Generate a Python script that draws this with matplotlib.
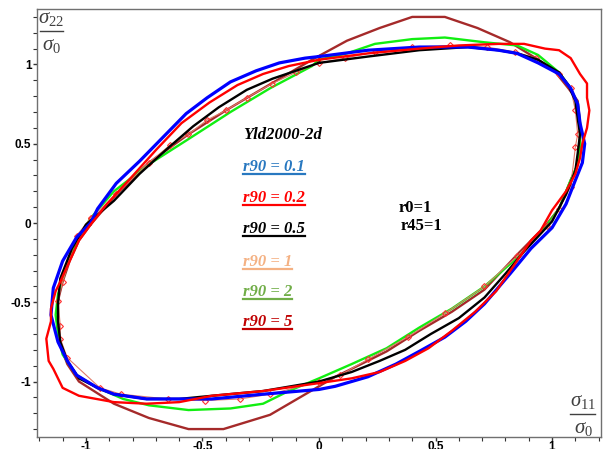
import matplotlib
matplotlib.use('Agg')
import matplotlib.pyplot as plt
from matplotlib.ticker import MultipleLocator, FixedLocator
from matplotlib.lines import Line2D
from matplotlib.transforms import IdentityTransform

# ---------------- data (sigma11/sigma0, sigma22/sigma0) ----------------
# r90 = 0.1 (blue)
x_r01 = [0.00, 0.21, 0.43, 0.64, 0.77, 0.85, 0.94, 1.03, 1.08, 1.11, 1.12, 1.14, 1.13, 1.10, 1.06, 1.00,
         0.91, 0.82, 0.71, 0.63, 0.54, 0.43, 0.33, 0.21, 0.07, 0.00, -0.24, -0.46, -0.60, -0.74, -0.88,
         -0.95, -1.04, -1.08, -1.12, -1.15, -1.14, -1.10, -1.04, -0.98, -0.95, -0.87, -0.77, -0.67, -0.57,
         -0.48, -0.38, -0.27, -0.17, -0.06]
y_r01 = [1.05, 1.09, 1.11, 1.11, 1.09, 1.07, 1.01, 0.94, 0.85, 0.75, 0.63, 0.50, 0.38, 0.27, 0.12, -0.03,
         -0.16, -0.32, -0.51, -0.62, -0.72, -0.81, -0.89, -0.97, -1.03, -1.05, -1.08, -1.11, -1.11, -1.11, -1.08,
         -1.04, -0.96, -0.87, -0.75, -0.58, -0.41, -0.24, -0.09, 0.00, 0.09, 0.25, 0.39, 0.54, 0.69,
         0.79, 0.89, 0.96, 1.01, 1.04]

# r90 = 0.2 (red)
x_r02 = [0.00, 0.21, 0.43, 0.60, 0.77, 0.88, 0.97, 1.03, 1.08, 1.12, 1.15, 1.15, 1.16, 1.15, 1.13, 1.12,
         1.10, 1.06, 1.00, 0.95, 0.91, 0.84, 0.76, 0.67, 0.57, 0.47, 0.37, 0.26, 0.14, 0.00, -0.24, -0.46,
         -0.60, -0.74, -0.88, -1.03, -1.10, -1.14, -1.16, -1.17, -1.15, -1.15, -1.13, -1.11, -1.07, -1.03,
         -0.98, -0.91, -0.81, -0.70, -0.59, -0.47, -0.35, -0.24, -0.13]
y_r02 = [1.03, 1.07, 1.10, 1.12, 1.13, 1.13, 1.10, 1.09, 1.04, 0.94, 0.88, 0.79, 0.71, 0.60, 0.50, 0.41,
         0.31, 0.20, 0.08, -0.05, -0.11, -0.26, -0.43, -0.56, -0.68, -0.79, -0.87, -0.94, -0.98, -1.01, -1.06, -1.09,
         -1.13, -1.14, -1.13, -1.09, -1.04, -0.92, -0.87, -0.73, -0.62, -0.54, -0.43, -0.37, -0.24, -0.11,
         -0.01, 0.12, 0.28, 0.46, 0.63, 0.76, 0.87, 0.94, 0.99]

# r90 = 0.5 (black)
x_r05 = [0.00, 0.21, 0.43, 0.64, 0.77, 0.85, 0.94, 1.03, 1.07, 1.10, 1.11, 1.12, 1.11, 1.10, 1.06, 1.00,
         0.88, 0.80, 0.71, 0.60, 0.48, 0.37, 0.26, 0.14, 0.00, -0.24, -0.46, -0.60, -0.74, -0.88, -0.95,
         -1.03, -1.08, -1.11, -1.12, -1.12, -1.11, -1.06, -1.00, -0.88, -0.77, -0.65, -0.54, -0.43, -0.31,
         -0.20, -0.10]
y_r05 = [1.01, 1.05, 1.09, 1.11, 1.09, 1.07, 1.03, 0.95, 0.87, 0.77, 0.66, 0.56, 0.44, 0.33, 0.18, 0.01,
         -0.18, -0.32, -0.47, -0.60, -0.70, -0.80, -0.87, -0.94, -1.00, -1.06, -1.09, -1.11, -1.11, -1.08, -1.04,
         -0.98, -0.87, -0.75, -0.62, -0.51, -0.35, -0.16, -0.01, 0.14, 0.31, 0.47, 0.61, 0.73, 0.84,
         0.91, 0.96]

# r90 = 1 (thin line with diamond markers)
x_r1 = [-0.98, -0.87, -0.73, -0.64, -0.56, -0.48, -0.40, -0.31, -0.20, -0.10, 0.00, 0.11, 0.24, 0.40,
        0.56, 0.72, 0.84, 0.93, 1.03, 1.08, 1.10, 1.11, 1.10, 1.08, 1.03, 0.98, 0.85, 0.71, 0.54, 0.38,
        0.21, 0.09, 0.00, -0.21, -0.34, -0.49, -0.65, -0.85, -0.94, -1.08, -1.11, -1.11, -1.12, -1.10,
        -1.04]
y_r1 = [0.03, 0.18, 0.38, 0.49, 0.56, 0.65, 0.71, 0.79, 0.88, 0.95, 1.01, 1.04, 1.08, 1.11,
        1.12, 1.11, 1.08, 1.04, 0.94, 0.85, 0.71, 0.56, 0.48, 0.23, 0.09, -0.02, -0.21, -0.40, -0.57, -0.72,
        -0.86, -0.96, -1.00, -1.08, -1.11, -1.12, -1.11, -1.08, -1.04, -0.85, -0.73, -0.65, -0.49, -0.37,
        -0.08]

# r90 = 2 (green)
x_r2 = [0.00, 0.12, 0.24, 0.40, 0.54, 0.71, 0.85, 0.94, 1.03, 1.08, 1.11, 1.12, 1.12, 1.11, 1.08, 1.03,
        0.98, 0.94, 0.85, 0.71, 0.57, 0.43, 0.29, 0.14, 0.00, -0.13, -0.24, -0.38, -0.56, -0.73, -0.84,
        -0.95, -1.04, -1.10, -1.12, -1.13, -1.12, -1.08, -1.03, -0.98, -0.88, -0.73, -0.57, -0.38, -0.21,
        -0.03]
y_r2 = [1.03, 1.07, 1.13, 1.16, 1.17, 1.14, 1.12, 1.06, 0.95, 0.85, 0.75, 0.63, 0.50, 0.37, 0.27, 0.09,
        -0.01, -0.08, -0.22, -0.40, -0.54, -0.66, -0.79, -0.89, -0.98, -1.06, -1.14, -1.17, -1.18, -1.15, -1.11,
        -1.04, -0.96, -0.83, -0.70, -0.58, -0.45, -0.26, -0.09, 0.03, 0.20, 0.37, 0.52, 0.70, 0.85,
        0.99]

# r90 = 5 (brown)
x_r5 = [-0.98, -0.87, -0.73, -0.56, -0.40, -0.32, -0.03, 0.12, 0.26, 0.40, 0.54, 0.68, 0.82, 0.93,
        1.01, 1.07, 1.11, 1.12, 1.12, 1.11, 1.08, 1.03, 0.97, 0.85, 0.71, 0.57, 0.43, 0.29, 0.14, 0.07,
        -0.21, -0.41, -0.56, -0.73, -0.88, -1.03, -1.08, -1.11, -1.12, -1.12, -1.10, -1.07, -1.03]
y_r5 = [-0.01, 0.18, 0.38, 0.56, 0.71, 0.78, 1.03, 1.15, 1.23, 1.30, 1.30, 1.23, 1.14, 1.04,
        0.96, 0.85, 0.77, 0.63, 0.50, 0.37, 0.27, 0.09, -0.02, -0.20, -0.42, -0.56, -0.68, -0.81, -0.92, -0.97,
        -1.21, -1.30, -1.30, -1.23, -1.14, -1.00, -0.89, -0.77, -0.62, -0.49, -0.37, -0.24, -0.11]

legend_title = "Yld2000-2d"
legend_labels = ["r90 = 0.1", "r90 = 0.2", "r90 = 0.5", "r90 = 1", "r90 = 2", "r90 = 5"]
legend_colors = ["#2878c0", "#ff0000", "#000000", "#f4b183", "#70ad47", "#c00000"]
note_lines = ["r0=1", "r45=1"]
xticks = [-1, -0.5, 0, 0.5, 1]
yticks = [-1, -0.5, 0, 0.5, 1]


def closed(a):
    return list(a) + [a[0]]


W, H = 608, 449
plt.rcParams["mathtext.fontset"] = "custom"
plt.rcParams["mathtext.rm"] = "Liberation Serif"
plt.rcParams["mathtext.it"] = "Liberation Serif:italic"
plt.rcParams["mathtext.bf"] = "Liberation Serif:bold"
fig = plt.figure(figsize=(W / 100, H / 100), dpi=100)
ax = fig.add_axes([37 / W, 1 - 437 / H, (601 - 37) / W, (437 - 9) / H])
ax.set_xlim(-1.21, 1.21)
ax.set_ylim(-1.35, 1.35)

ax.plot(closed(x_r5), closed(y_r5), color="#a52a2a", lw=1.7, zorder=2)
ax.plot(closed(x_r2), closed(y_r2), color="#11ee11", lw=1.7, zorder=3)
ax.plot(closed(x_r1), closed(y_r1), color="#e07a6a", lw=0.8, marker="D", ms=3,
        mfc="none", mec="#ff3030", mew=0.8, zorder=4)
ax.plot(closed(x_r05), closed(y_r05), color="#000000", lw=1.7, zorder=5)
ax.plot(closed(x_r01), closed(y_r01), color="#0000ff", lw=2.3, zorder=6)
ax.plot(closed(x_r02), closed(y_r02), color="#ff0000", lw=1.7, zorder=7)

# axes styling
for s in ax.spines.values():
    s.set_color("#707070")
    s.set_linewidth(1.0)
ax.xaxis.set_major_locator(FixedLocator(xticks))
ax.yaxis.set_major_locator(FixedLocator(yticks))
ax.xaxis.set_minor_locator(MultipleLocator(0.1))
ax.yaxis.set_minor_locator(MultipleLocator(0.1))
ax.tick_params(which="both", direction="out", top=False, right=False, color="#333333")
ax.tick_params(which="major", length=3, width=1, pad=1)
ax.tick_params(axis="x", which="major", pad=0)
ax.tick_params(which="minor", length=3, width=0.8)
ax.set_xticklabels(["-1", "-0.5", "0", "0.5", "1"])
ax.set_yticklabels(["-1", "-0.5", "0", "0.5", "1"])
for lab in ax.get_xticklabels() + ax.get_yticklabels():
    lab.set_fontfamily("Liberation Sans")
    lab.set_fontweight("bold")
    lab.set_fontsize(8.5)


def frac_label(cx, ybar, x0, x1, num, den):
    fig.text(cx / W, 1 - (ybar - 13) / H, num, fontsize=15, color="#404040",
             ha="center", va="center")
    fig.text(cx / W, 1 - (ybar + 14) / H, den, fontsize=15, color="#404040",
             ha="center", va="center")
    fig.add_artist(Line2D([x0 / W, x1 / W], [1 - ybar / H, 1 - ybar / H],
                          transform=fig.transFigure, color="#404040", lw=1.0))


frac_label(51, 31, 40, 63, r"$\sigma_{22}$", r"$\sigma_0$")
frac_label(583, 414, 570, 595, r"$\sigma_{11}$", r"$\sigma_0$")

# legend-like annotations
ax.text(-0.326, 0.553, legend_title, fontfamily="Liberation Serif", fontweight="bold",
        fontstyle="italic", fontsize=12, color="black", ha="left", va="center")
ys = [0.352, 0.157, -0.038, -0.245, -0.434, -0.623]
texts = []
for lab, col, yy in zip(legend_labels, legend_colors, ys):
    t = ax.text(-0.326, yy, lab, fontfamily="Liberation Serif", fontweight="bold",
                fontstyle="italic", fontsize=12, color=col, ha="left", va="center")
    texts.append((t, col))

ax.text(0.343, 0.094, note_lines[0], fontfamily="Liberation Serif", fontweight="bold",
        fontsize=12, color="black", ha="left", va="center")
ax.text(0.352, -0.019, note_lines[1], fontfamily="Liberation Serif", fontweight="bold",
        fontsize=12, color="black", ha="left", va="center")

fig.canvas.draw()
r = fig.canvas.get_renderer()
for t, col in texts:
    bb = t.get_window_extent(renderer=r)
    yline = bb.y0 + 1
    fig.add_artist(Line2D([bb.x0, bb.x1], [yline, yline], transform=IdentityTransform(),
                          color=col, lw=1.6))

fig.savefig("out.png", dpi=100)
